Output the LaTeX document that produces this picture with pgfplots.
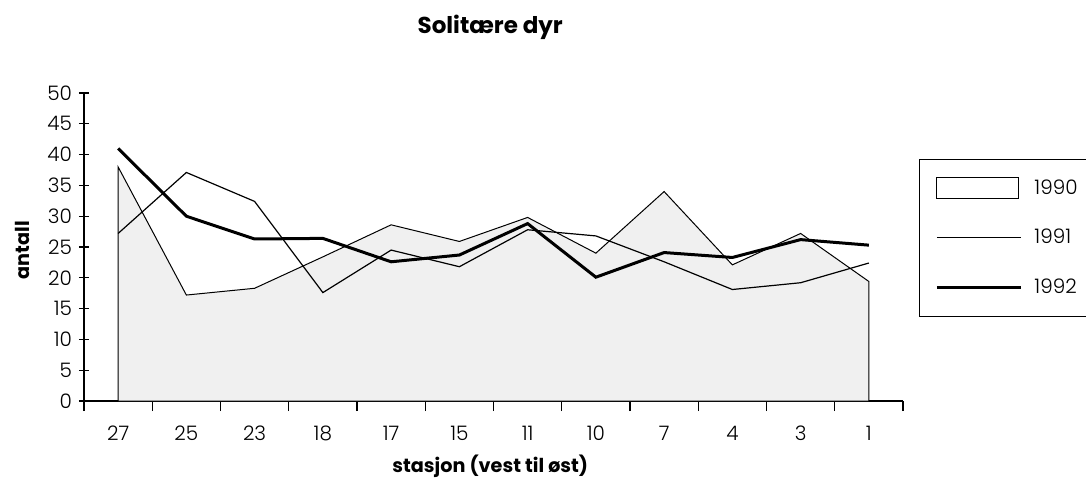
\documentclass[border=0pt]{standalone}
\usepackage{fontspec}
\setmainfont{Poppins}
\newfontfamily\lightfont{Poppins}[UprightFont={* Light}]
\usepackage{pgfplots}
\pgfplotsset{compat=1.18}

\begin{document}
\begin{tikzpicture}[x=1pt,y=1pt]
\useasboundingbox (-42,-38.5) rectangle (501,200.5);
\begin{axis}[
  at={(0,0)}, anchor=south west,
  scale only axis, width=409.5pt, height=154pt,
  xmin=-0.5, xmax=11.5, ymin=0, ymax=50,
  axis x line*=bottom, axis y line*=left,
  axis line style={line width=0.7pt},
  xtick={-0.5,0.5,...,11.5},
  xticklabels={27,25,23,18,17,15,11,10,7,4,3,1},
  x tick label as interval,
  ytick={0,5,...,50},
  xtick align=outside, ytick align=center,
  major tick length=5pt,
  tick style={black, line width=0.6pt},
  /pgf/number format/assume math mode=true,
  ticklabel style={font=\lightfont\fontsize{10}{12}\selectfont},
  xticklabel style={yshift=-4pt},
  title={\textbf{Solitære dyr}},
  title style={at={(axis description cs:0.496,1.175)}, anchor=center, font=\fontsize{11.5}{14}\selectfont},
  xlabel={\textbf{stasjon (vest til øst)}},
  xlabel style={at={(axis description cs:0.496,-0.211)}, anchor=center, font=\fontsize{9.6}{12}\selectfont},
  ylabel={\textbf{antall}},
  ylabel style={at={(axis description cs:-0.0757,0.49)}, anchor=center, rotate=0, font=\fontsize{9.6}{12}\selectfont},
  legend style={at={(axis description cs:1.0195,0.786)}, anchor=north west,
    draw=black, line width=0.5pt, inner xsep=8pt, inner ysep=8pt,
    row sep=12pt, font=\lightfont\fontsize{10}{12}\selectfont,
    /tikz/every odd column/.append style={column sep=4pt}},
  legend cell align=left,
]
\addplot[draw=black, line width=0.5pt, fill=gray!12,
  legend image code/.code={\draw[black, line width=0.5pt, fill=white] (0pt,-5.25pt) rectangle (41pt,5.25pt);}]
  coordinates {(0,38.0) (1,17.2) (2,18.3) (3,23.4) (4,28.6) (5,25.9) (6,29.8) (7,24.0) (8,34.0) (9,22.1) (10,27.2) (11,19.4)} \closedcycle;
\addlegendentry{1990}
\addplot[black, line width=0.6pt,
  legend image code/.code={\draw[black, line width=0.6pt] (0pt,0pt) -- (42pt,0pt);}]
  coordinates {(0,27.2) (1,37.1) (2,32.4) (3,17.6) (4,24.5) (5,21.8) (6,27.8) (7,26.8) (8,22.6) (9,18.1) (10,19.2) (11,22.4)};
\addlegendentry{1991}
\addplot[black, line width=1.5pt,
  legend image code/.code={\draw[black, line width=1.5pt] (0pt,0pt) -- (42pt,0pt);}]
  coordinates {(0,41.0) (1,30.0) (2,26.3) (3,26.4) (4,22.6) (5,23.7) (6,28.8) (7,20.1) (8,24.1) (9,23.3) (10,26.2) (11,25.3)};
\addlegendentry{1992}
\end{axis}
\end{tikzpicture}
\end{document}
